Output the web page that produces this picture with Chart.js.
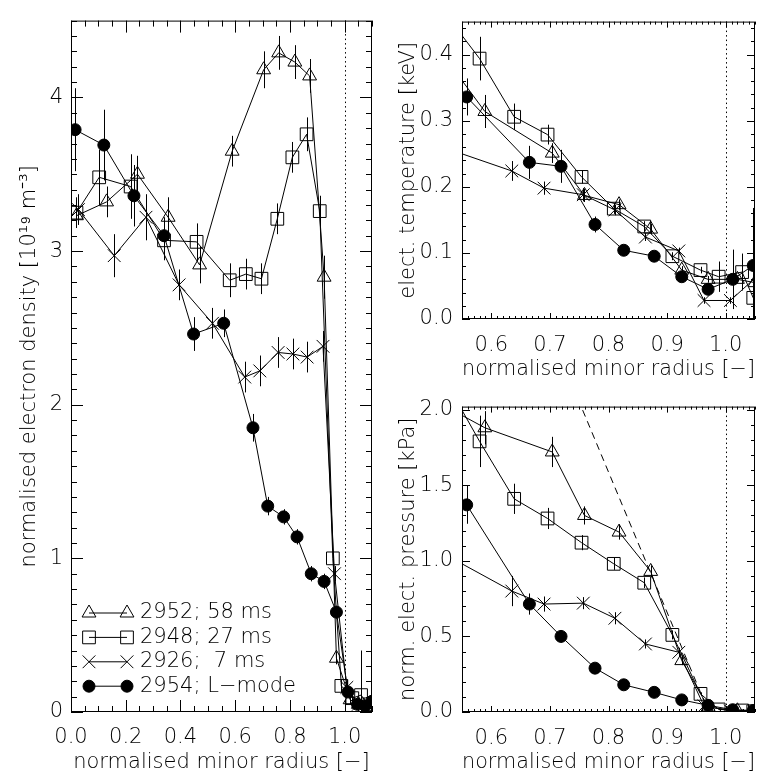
<!DOCTYPE html>
<html>
<head>
<meta charset="utf-8">
<script src="https://cdn.jsdelivr.net/npm/chart.js@4.4.1/dist/chart.umd.min.js"></script>
<style>
  html, body { margin: 0; background: #fff; }
  .panel { position: absolute; }
</style>
</head>
<body>
<div class="panel" style="left:0;top:0;width:385px;height:778px"><canvas id="density"></canvas></div>
<div class="panel" style="left:385px;top:0;width:380px;height:385px"><canvas id="temperature"></canvas></div>
<div class="panel" style="left:385px;top:385px;width:380px;height:393px"><canvas id="pressure"></canvas></div>
<script>
// legend text, in dataset order (2952, 2948, 2926, 2954)
const shotLabels = ['2952; 58 ms', '2948; 27 ms', '2926;  7 ms', '2954; L\u2212mode'];

// ---- density profiles (left panel) ----
const nR2952 = [0.02, 0.13, 0.243, 0.355, 0.47, 0.589, 0.704, 0.759, 0.818, 0.872, 0.925, 0.97, 1.02, 1.05];
const n2952 = [3.23, 3.32, 3.50, 3.22, 2.91, 3.65, 4.18, 4.29, 4.23, 4.14, 2.83, 0.35, 0.08, 0.05];
const nErr2952 = [0.08, 0.1, 0.12, 0.13, 0.12, 0.1, 0.12, 0.11, 0.11, 0.11, 0.14, 0.04, 0.03, 0.03];

const nR2948 = [0.02, 0.103, 0.218, 0.34, 0.459, 0.58, 0.639, 0.696, 0.754, 0.809, 0.861, 0.909, 0.957, 0.988, 1.028, 1.06, 1.085];
const n2948 = [3.25, 3.48, 3.42, 3.07, 3.06, 2.81, 2.85, 2.82, 3.21, 3.61, 3.76, 3.26, 1.0, 0.17, 0.09, 0.11, 0.05];
const nErr2948 = [0.1, 0.18, 0.21, 0.13, 0.12, 0.11, 0.1, 0.1, 0.1, 0.1, 0.11, 0.1, 0.05, 0.04, 0.04, 0.29, 0.03];

const nR2926 = [0.027, 0.158, 0.274, 0.395, 0.517, 0.635, 0.69, 0.757, 0.811, 0.863, 0.921, 0.963, 1.008, 1.05, 1.085];
const n2926 = [3.27, 2.97, 3.22, 2.78, 2.53, 2.18, 2.22, 2.34, 2.33, 2.31, 2.38, 0.90, 0.16, 0.05, 0.04];
const nErr2926 = [0.1, 0.14, 0.15, 0.1, 0.1, 0.1, 0.1, 0.1, 0.1, 0.1, 0.1, 0.05, 0.05, 0.04, 0.03];

const nR2954 = [0.015, 0.12, 0.23, 0.34, 0.448, 0.558, 0.665, 0.719, 0.777, 0.826, 0.878, 0.925, 0.97, 1.012, 1.047, 1.075, 1.1];
const n2954 = [3.79, 3.69, 3.36, 3.10, 2.46, 2.53, 1.85, 1.34, 1.27, 1.14, 0.90, 0.85, 0.65, 0.13, 0.05, 0.04, 0.07];
const nErr2954 = [0.27, 0.23, 0.2, 0.12, 0.11, 0.09, 0.09, 0.06, 0.05, 0.05, 0.05, 0.05, 0.04, 0.03, 0.03, 0.03, 0.03];

// ---- edge profiles (right panels), temperature [keV] and pressure [kPa] ----
const eR2952 = [0.47, 0.589, 0.704, 0.759, 0.818, 0.872, 0.925, 0.97, 1.02, 1.05];
const t2952 = [0.457, 0.314, 0.251, 0.187, 0.173, 0.136, 0.074, 0.060, 0.06, 0.055];
const tErr2952 = [0.03, 0.025, 0.015, 0.01, 0.008, 0.008, 0.006, 0.005, 0.005, 0.005];
const p2952 = [2.13, 1.88, 1.72, 1.30, 1.19, 0.93, 0.34, 0.033, 0.008, 0.005];
const pErr2952 = [0.15, 0.11, 0.1, 0.06, 0.05, 0.04, 0.03, 0.01, 0.005, 0.005];

const eR2948 = [0.459, 0.58, 0.639, 0.696, 0.754, 0.809, 0.861, 0.909, 0.957, 0.988, 1.028, 1.047];
const t2948 = [0.535, 0.394, 0.306, 0.279, 0.215, 0.167, 0.140, 0.095, 0.074, 0.064, 0.071, 0.032];
const tErr2948 = [0.04, 0.033, 0.02, 0.015, 0.01, 0.008, 0.008, 0.006, 0.005, 0.023, 0.028, 0.136];
const p2948 = [2.62, 1.79, 1.41, 1.28, 1.12, 0.98, 0.855, 0.51, 0.12, 0.017, 0.01, 0.005];
const pErr2948 = [0.2, 0.17, 0.1, 0.07, 0.05, 0.04, 0.035, 0.03, 0.01, 0.005, 0.005, 0.005];

const eR2926 = [0.517, 0.635, 0.69, 0.757, 0.811, 0.863, 0.92, 0.963, 1.008, 1.085];
const t2926 = [0.26, 0.224, 0.198, 0.188, 0.165, 0.124, 0.103, 0.028, 0.028, 0.09];
const tErr2926 = [0.02, 0.015, 0.01, 0.01, 0.008, 0.006, 0.005, 0.005, 0.005, 0.01];
const p2926 = [1.05, 0.80, 0.714, 0.72, 0.62, 0.45, 0.395, 0.04, 0.007, 0.006];
const pErr2926 = [0.08, 0.1, 0.05, 0.04, 0.04, 0.03, 0.03, 0.01, 0.005, 0.005];

const eR2954 = [0.558, 0.665, 0.719, 0.777, 0.826, 0.878, 0.925, 0.97, 1.012, 1.047];
const t2954 = [0.336, 0.237, 0.231, 0.143, 0.104, 0.095, 0.064, 0.045, 0.060, 0.081];
const tErr2954 = [0.028, 0.025, 0.025, 0.012, 0.008, 0.006, 0.006, 0.006, 0.045, 0.04];
const p2954 = [1.37, 0.714, 0.50, 0.29, 0.18, 0.13, 0.08, 0.044, 0.015, 0.01];
const pErr2954 = [0.125, 0.07, 0.04, 0.02, 0.015, 0.01, 0.01, 0.005, 0.005, 0.005];

// dashed pedestal gradient line on the pressure panel
const fitR = [0.748, 0.971];
const fitP = [2.07, 0.0];

// axis tick labels
const densityXTicks = [0.0, 0.2, 0.4, 0.6, 0.8, 1.0];
const densityYTicks = [0, 1, 2, 3, 4];
const edgeXTicks = [0.6, 0.7, 0.8, 0.9, 1.0];
const temperatureYTicks = [0.0, 0.1, 0.2, 0.3, 0.4];
const pressureYTicks = [0.0, 0.5, 1.0, 1.5, 2.0];
const separatrix = 1.0;

// thin face to get closer to the IDL vector font
const FONT = { family: "'DejaVu Sans', sans-serif", size: 21, weight: 200 };
Chart.defaults.color = '#000';
Chart.defaults.font.family = FONT.family;

const markers = [
  { pointStyle: 'triangle', radius: 8, fill: 'rgba(0,0,0,0)' },
  { pointStyle: 'rect', radius: 9, fill: 'rgba(0,0,0,0)' },
  { pointStyle: 'crossRot', radius: 9, fill: 'rgba(0,0,0,0)' },
  { pointStyle: 'circle', radius: 6, fill: '#000' },
];

const series = (r, v, err, m) => ({
  data: r.map((x, i) => ({ x, y: v[i] })),
  errors: err,
  showLine: true,
  borderColor: '#000',
  borderWidth: 1,
  pointStyle: m.pointStyle,
  pointRadius: m.radius,
  pointBorderWidth: 1,
  pointBorderColor: '#000',
  pointBackgroundColor: m.fill,
});

// vertical error bars, through the chart scales
const errorBars = {
  id: 'errorBars',
  afterDatasetsDraw(chart) {
    const { ctx, chartArea: a, scales: { x, y } } = chart;
    ctx.save();
    ctx.beginPath();
    ctx.rect(a.left, a.top, a.right - a.left, a.bottom - a.top);
    ctx.clip();
    ctx.strokeStyle = '#000';
    ctx.lineWidth = 1;
    chart.data.datasets.forEach(ds => {
      if (!ds.errors) return;
      ds.data.forEach((p, i) => {
        const px = Math.round(x.getPixelForValue(p.x)) + 0.5;
        ctx.beginPath();
        ctx.moveTo(px, y.getPixelForValue(p.y - ds.errors[i]));
        ctx.lineTo(px, y.getPixelForValue(p.y + ds.errors[i]));
        ctx.stroke();
      });
    });
    ctx.restore();
  }
};

// IDL style box: frame, inward ticks on all sides, dotted separatrix
const idlBox = {
  id: 'idlBox',
  afterDatasetsDraw(chart, args, o) {
    const { ctx, chartArea: a, scales: { x, y } } = chart;
    const marks = (min, max, step) => {
      const out = [];
      for (let k = Math.ceil(min / step - 1e-6); k * step <= max + 1e-9; k++) out.push(k * step);
      return out;
    };
    const isMajor = (v, step) => Math.abs(v / step - Math.round(v / step)) < 1e-6;
    ctx.save();
    ctx.strokeStyle = '#000';
    ctx.lineWidth = 1;
    ctx.strokeRect(a.left + 0.5, a.top + 0.5, a.right - a.left - 1, a.bottom - a.top - 1);
    ctx.beginPath();
    marks(x.min, x.max, o.xMinor).forEach(v => {
      const px = Math.round(x.getPixelForValue(v)) + 0.5;
      const len = isMajor(v, o.xMajor) ? o.xLen[0] : o.xLen[1];
      ctx.moveTo(px, a.bottom); ctx.lineTo(px, a.bottom - len);
      ctx.moveTo(px, a.top); ctx.lineTo(px, a.top + len);
    });
    marks(y.min, y.max, o.yMinor).forEach(v => {
      const py = Math.round(y.getPixelForValue(v)) + 0.5;
      const len = isMajor(v, o.yMajor) ? o.yLen[0] : o.yLen[1];
      ctx.moveTo(a.left, py); ctx.lineTo(a.left + len, py);
      ctx.moveTo(a.right, py); ctx.lineTo(a.right - len, py);
    });
    ctx.stroke();
    const sx = Math.round(x.getPixelForValue(separatrix)) + 0.5;
    ctx.setLineDash([1.5, 3]);
    ctx.beginPath();
    ctx.moveTo(sx, a.top); ctx.lineTo(sx, a.bottom);
    ctx.stroke();
    ctx.restore();
  }
};

// legend with a marker at both ends of a short line
const shotLegend = {
  id: 'shotLegend',
  afterDraw(chart) {
    const ctx = chart.ctx;
    ctx.save();
    ctx.strokeStyle = '#000';
    ctx.lineWidth = 1;
    ctx.font = FONT.weight + ' ' + FONT.size + 'px ' + FONT.family;
    ctx.textBaseline = 'middle';
    shotLabels.forEach((label, i) => {
      const m = markers[i];
      const y = 613 + i * 24.4;
      ctx.beginPath();
      ctx.moveTo(89, y); ctx.lineTo(127, y);
      ctx.stroke();
      [89, 127].forEach(x => {
        ctx.fillStyle = m.fill;
        Chart.helpers.drawPoint(ctx, { pointStyle: m.pointStyle, radius: m.radius, borderWidth: 1, rotation: 0 }, x, y);
      });
      ctx.fillStyle = '#000';
      ctx.fillText(label, 140, y);
    });
    ctx.restore();
  }
};

function axis(min, max, ticks, fmt, title, size, isX, tickPad, titlePad) {
  return {
    type: 'linear',
    min, max,
    grid: { display: false, drawTicks: false },
    border: { display: false },
    ticks: { padding: tickPad, font: FONT, color: '#000', autoSkip: false, maxRotation: 0, callback: fmt },
    afterBuildTicks: s => { s.ticks = ticks.map(v => ({ value: v })); },
    afterFit: s => { if (isX) s.height = size; else s.width = size; },
    title: { display: true, text: title, font: FONT, color: '#000', padding: titlePad },
  };
}

function makeChart(id, datasets, scales, padding, box, extra) {
  return new Chart(document.getElementById(id), {
    type: 'scatter',
    data: { datasets },
    options: {
      responsive: true,
      maintainAspectRatio: false,
      animation: false,
      layout: { padding },
      scales,
      plugins: { legend: { display: false }, tooltip: { enabled: false }, idlBox: box },
    },
    plugins: [errorBars, idlBox].concat(extra || []),
  });
}

const xTitle = 'normalised minor radius [\u2212]';
const one = v => v.toFixed(1);

makeChart('density', [
  series(nR2952, n2952, nErr2952, markers[0]),
  series(nR2948, n2948, nErr2948, markers[1]),
  series(nR2926, n2926, nErr2926, markers[2]),
  series(nR2954, n2954, nErr2954, markers[3]),
], {
  x: axis(0, 1.1, densityXTicks, one, xTitle, 66, true, 13, { top: 0, bottom: 3 }),
  y: axis(0, 4.5, densityYTicks, v => String(v), 'normalised electron density [10\u00b9\u2079 m\u207b\u00b3]', 71, false, 8, { top: 17, bottom: 0 }),
}, { top: 8, right: 13, left: 0, bottom: 0 },
{ xMinor: 0.05, xMajor: 0.2, xLen: [12, 6], yMinor: 0.1, yMajor: 1, yLen: [12, 6] },
[shotLegend]);

makeChart('temperature', [
  series(eR2952, t2952, tErr2952, markers[0]),
  series(eR2948, t2948, tErr2948, markers[1]),
  series(eR2926, t2926, tErr2926, markers[2]),
  series(eR2954, t2954, tErr2954, markers[3]),
], {
  x: axis(0.55, 1.05, edgeXTicks, one, xTitle, 66, true, 14, { top: 0, bottom: 3 }),
  y: axis(0, 0.45, temperatureYTicks, one, 'elect. temperature [keV]', 77, false, 9, { top: 11, bottom: 0 }),
}, { top: 9, right: 3, left: 0, bottom: 0 },
{ xMinor: 0.01, xMajor: 0.1, xLen: [6, 3], yMinor: 0.02, yMajor: 0.1, yLen: [8, 4] });

const fit = {
  data: fitR.map((x, i) => ({ x, y: fitP[i] })),
  showLine: true,
  borderColor: '#000',
  borderWidth: 1,
  borderDash: [7, 5],
  pointRadius: 0,
};

makeChart('pressure', [
  series(eR2952, p2952, pErr2952, markers[0]),
  series(eR2948, p2948, pErr2948, markers[1]),
  series(eR2926, p2926, pErr2926, markers[2]),
  series(eR2954, p2954, pErr2954, markers[3]),
  fit,
], {
  x: axis(0.55, 1.05, edgeXTicks, one, xTitle, 66, true, 14, { top: 0, bottom: 3 }),
  y: axis(0, 2.02, pressureYTicks, one, 'norm. elect. pressure [kPa]', 77, false, 9, { top: 11, bottom: 0 }),
}, { top: 17, right: 3, left: 0, bottom: 0 },
{ xMinor: 0.01, xMajor: 0.1, xLen: [6, 3], yMinor: 0.1, yMajor: 0.5, yLen: [8, 4] });
</script>
</body>
</html>
